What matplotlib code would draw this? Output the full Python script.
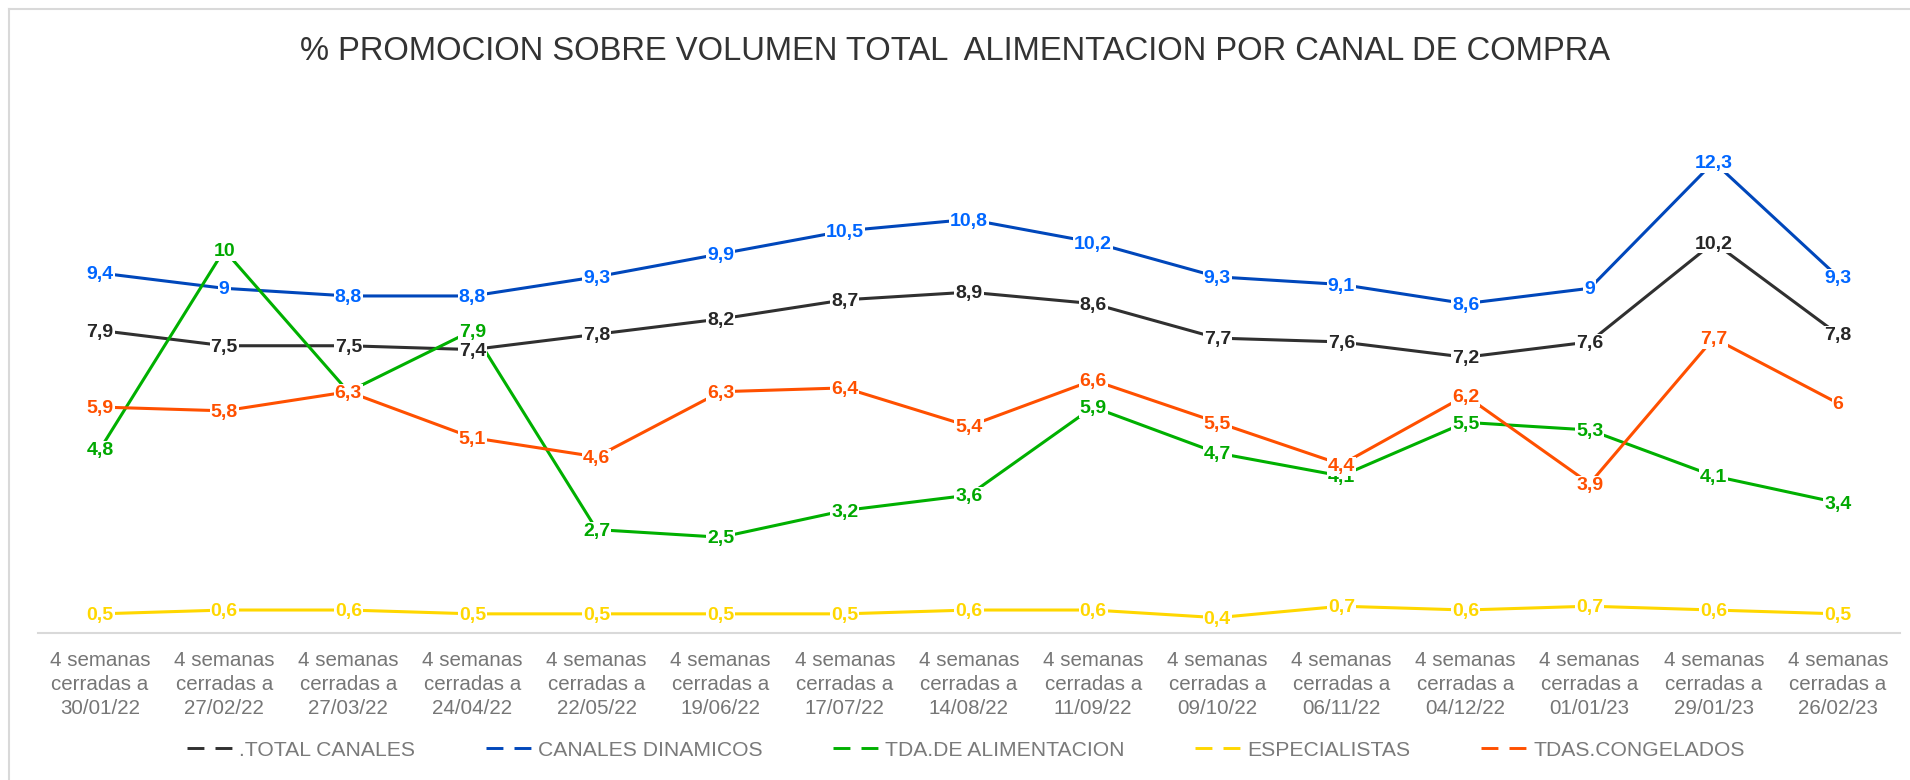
import matplotlib
matplotlib.use("Agg")
import matplotlib.pyplot as plt
from matplotlib.lines import Line2D

categories = ["30/01/22", "27/02/22", "27/03/22", "24/04/22", "22/05/22", "19/06/22",
              "17/07/22", "14/08/22", "11/09/22", "09/10/22", "06/11/22", "04/12/22",
              "01/01/23", "29/01/23", "26/02/23"]
tick_labels = ["4 semanas\ncerradas a\n" + c for c in categories]

total_canales = [7.9, 7.5, 7.5, 7.4, 7.8, 8.2, 8.7, 8.9, 8.6, 7.7, 7.6, 7.2, 7.6, 10.2, 7.8]
canales_dinamicos = [9.4, 9, 8.8, 8.8, 9.3, 9.9, 10.5, 10.8, 10.2, 9.3, 9.1, 8.6, 9, 12.3, 9.3]
tda_alimentacion = [4.8, 10, 6.3, 7.9, 2.7, 2.5, 3.2, 3.6, 5.9, 4.7, 4.1, 5.5, 5.3, 4.1, 3.4]
especialistas = [0.5, 0.6, 0.6, 0.5, 0.5, 0.5, 0.5, 0.6, 0.6, 0.4, 0.7, 0.6, 0.7, 0.6, 0.5]
tdas_congelados = [5.9, 5.8, 6.3, 5.1, 4.6, 6.3, 6.4, 5.4, 6.6, 5.5, 4.4, 6.2, 3.9, 7.7, 6]

series_names = [".TOTAL CANALES", "CANALES DINAMICOS", "TDA.DE ALIMENTACION",
                "ESPECIALISTAS", "TDAS.CONGELADOS"]
series_values = [total_canales, canales_dinamicos, tda_alimentacion, especialistas, tdas_congelados]
line_colors = ["#303030", "#0047BB", "#00B000", "#FFD700", "#FF5000"]
label_colors = ["#262626", "#0066FF", "#00A800", "#FFD700", "#FF5000"]

plt.rcParams["font.family"] = ["Liberation Sans", "DejaVu Sans"]

fig = plt.figure(figsize=(19.1, 7.8), dpi=100)
W, H = 1910, 780
# frame border (top and left)
fig.add_artist(Line2D([9 / W, 1.0], [1 - 9 / H, 1 - 9 / H], color="#d9d9d9", lw=1.5))
fig.add_artist(Line2D([9 / W, 9 / W], [0, 1 - 9 / H], color="#d9d9d9", lw=1.5))

ax_left, ax_right = 38 / W, 1900 / W
ax_bottom = (H - 633) / H
ymax = 14
ax_top = (H - (633 - ymax * 38.3)) / H
ax = fig.add_axes([ax_left, ax_bottom, ax_right - ax_left, ax_top - ax_bottom])

x = list(range(len(categories)))
for i, (name, vals) in enumerate(zip(series_names, series_values)):
    ax.plot(x, vals, color=line_colors[i], lw=2.2, solid_capstyle="butt", zorder=2 + i * 0.01)
for i, (name, vals) in enumerate(zip(series_names, series_values)):
    for xi, v in zip(x, vals):
        s = ("%g" % v).replace(".", ",")
        ax.annotate(s, (xi, v), xytext=(0, -1.2), textcoords="offset points",
                    ha="center", va="center", fontsize=14, fontweight="bold",
                    color=label_colors[i], zorder=5 + i,
                    bbox=dict(boxstyle="square,pad=0.05", fc="white", ec="none"))

ax.set_xlim(-0.5, len(categories) - 0.5)
ax.set_ylim(0, ymax)
for sp in ["top", "right", "left"]:
    ax.spines[sp].set_visible(False)
ax.spines["bottom"].set_color("#d9d9d9")
ax.spines["bottom"].set_linewidth(1.5)
ax.spines["bottom"].set_zorder(1)
ax.set_yticks([])
ax.set_xticks(x)
ax.set_xticklabels(tick_labels, fontsize=14.75, color="#767676", linespacing=1.32)
ax.tick_params(axis="x", length=0, pad=13)

fig.text(0.5, 1 - 51 / H, "% PROMOCION SOBRE VOLUMEN TOTAL  ALIMENTACION POR CANAL DE COMPRA",
         ha="center", va="center", fontsize=23.6, color="#333333")

handles = [Line2D([0], [0], color=c, lw=2.1, dashes=(5.8, 3.8)) for c in line_colors]
leg = fig.legend(handles, series_names, loc="center", bbox_to_anchor=(966 / W, 1 - 750 / H),
                 ncol=5, frameon=False, fontsize=15.2, handlelength=2.16, handletextpad=0.3,
                 columnspacing=3.35)
for t in leg.get_texts():
    t.set_color("#7a7a7a")

fig.savefig("out.png", dpi=100, facecolor="white")
